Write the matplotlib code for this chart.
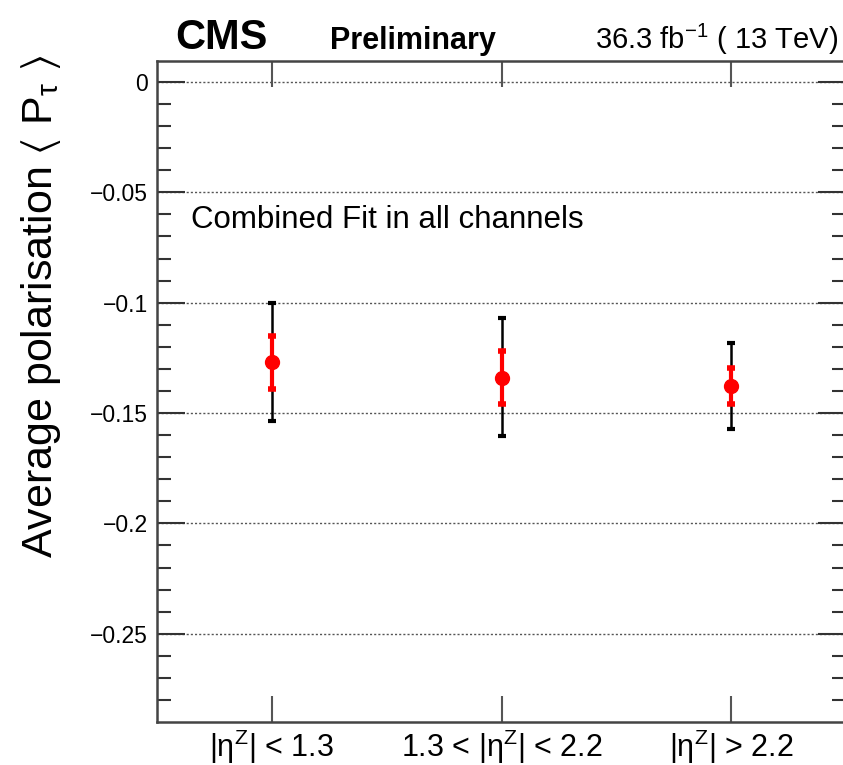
import matplotlib
matplotlib.use('Agg')
import matplotlib.pyplot as plt
import numpy as np

plt.rcParams['font.family'] = ['Liberation Sans', 'DejaVu Sans']
plt.rcParams['mathtext.fontset'] = 'custom'
plt.rcParams['mathtext.rm'] = 'Liberation Sans'
plt.rcParams['mathtext.it'] = 'Liberation Sans:italic'
plt.rcParams['mathtext.bf'] = 'Liberation Sans:bold'
plt.rcParams['mathtext.fallback'] = 'stixsans'

# data
bins = ['|η$^{\\mathrm{Z}}$| < 1.3', '1.3 < |η$^{\\mathrm{Z}}$| < 2.2', '|η$^{\\mathrm{Z}}$| > 2.2']
pol = [-0.127, -0.134, -0.1378]
err_stat = [0.0121, 0.0121, 0.0081]
err_tot_up = [0.027, 0.0271, 0.0196]
err_tot_dn = [0.0265, 0.0263, 0.0196]

x = np.arange(len(bins)) + 0.5

fig = plt.figure(figsize=(8.43, 7.65), dpi=100)
ax = fig.add_axes([157 / 843, 1 - 722 / 765, 689 / 843, 661 / 765])

ax.set_xlim(0, 3)
ax.set_ylim(-0.29, 0.0095)

# dotted grid at the major y ticks
for yv in np.arange(0, -0.26, -0.05):
    ax.axhline(yv, color='#555555', lw=1.0, ls=(0, (1.5, 1.5)), zorder=1)

# total error (black), then stat error (red)
ax.errorbar(x, pol, yerr=[err_tot_dn, err_tot_up], fmt='none', ecolor='black',
            elinewidth=1.8, capsize=3, capthick=3, zorder=3)
ax.errorbar(x, pol, yerr=err_stat, fmt='o', color='red', ms=10,
            ecolor='red', elinewidth=3, capsize=3, capthick=4, zorder=4)

ax.set_xticks(x)
ax.set_xticklabels(bins, fontsize=22)
ax.set_yticks(np.arange(0, -0.26, -0.05))
ax.set_yticklabels(['0', '\u22120.05', '\u22120.1', '\u22120.15', '\u22120.2', '\u22120.25'])
ax.set_yticks(np.arange(0, -0.29, -0.01), minor=True)
ax.tick_params(axis='y', which='major', direction='in', length=20, width=1.5,
               left=True, right=True, labelsize=16.5, pad=6.5, color='#333333')
ax.tick_params(axis='y', which='minor', direction='in', length=10, width=1.5,
               left=True, right=True, color='#333333')
ax.tick_params(axis='x', which='major', direction='in', length=19, width=1.5,
               top=True, bottom=True, pad=4, color='#555555')
ax.tick_params(axis='x', which='minor', bottom=False, top=False)
for s in ax.spines.values():
    s.set_linewidth(1.8)
    s.set_color('#444444')

ax.text(0.15, -0.0625, 'Combined Fit in all channels', fontsize=22.5, va='center', ha='left')

fig.text(175 / 843, 1 - 49 / 765, 'CMS', fontsize=30, fontweight='bold', va='baseline')
fig.text(330 / 843, 1 - 49 / 765, 'Preliminary', fontsize=22, fontweight='bold', va='baseline')
fig.text(838 / 843, 1 - 49 / 765, '36.3 fb$^{-1}$ ( 13 TeV)', fontsize=21, ha='right', va='baseline')

fig.text(41 / 843, 1 - 55 / 765, 'Average polarisation $\\langle$ P$_{\\mathrm{\\tau}}$ $\\rangle$',
         fontsize=31, rotation=90, ha='center', va='top')

fig.savefig('out.png', dpi=100)
